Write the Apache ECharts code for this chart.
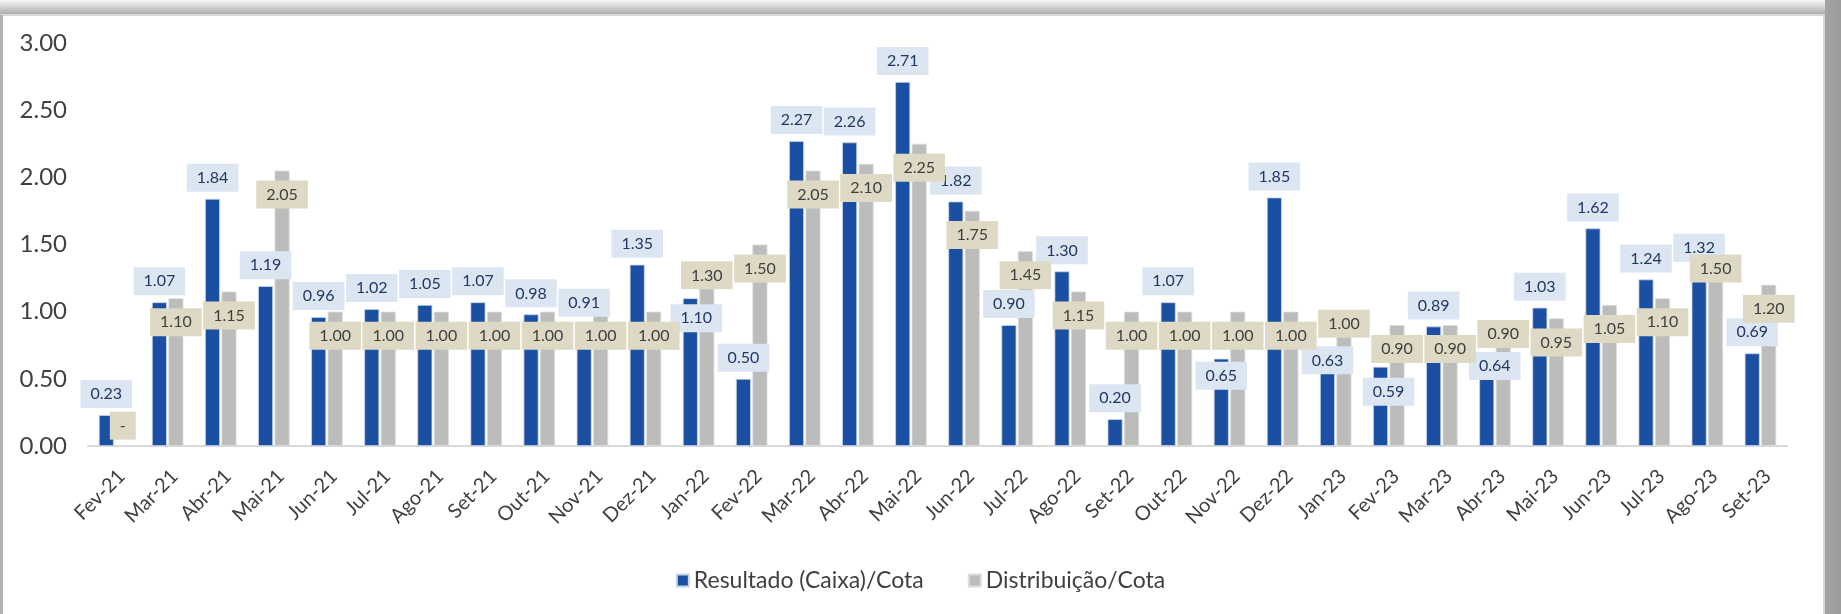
<!DOCTYPE html>
<html>
<head>
<meta charset="utf-8">
<title>Resultado x Distribuição por cota</title>
<script src="https://cdn.jsdelivr.net/npm/echarts@6/dist/echarts.min.js"></script>
<style>
  html, body { margin: 0; padding: 0; background: #fff; }
  #chart { width: 1841px; height: 614px; }
</style>
</head>
<body>
<div id="chart"></div>
<script>
// --- data ---
const months = [
  "Fev-21", "Mar-21", "Abr-21", "Mai-21", "Jun-21", "Jul-21", "Ago-21", "Set-21",
  "Out-21", "Nov-21", "Dez-21", "Jan-22", "Fev-22", "Mar-22", "Abr-22", "Mai-22",
  "Jun-22", "Jul-22", "Ago-22", "Set-22", "Out-22", "Nov-22", "Dez-22", "Jan-23",
  "Fev-23", "Mar-23", "Abr-23", "Mai-23", "Jun-23", "Jul-23", "Ago-23", "Set-23"
];

const resultadoCota = [
  0.23, 1.07, 1.84, 1.19, 0.96, 1.02, 1.05, 1.07,
  0.98, 0.91, 1.35, 1.10, 0.50, 2.27, 2.26, 2.71,
  1.82, 0.90, 1.30, 0.20, 1.07, 0.65, 1.85, 0.63,
  0.59, 0.89, 0.64, 1.03, 1.62, 1.24, 1.32, 0.69
];

const distribuicaoCota = [
  0.00, 1.10, 1.15, 2.05, 1.00, 1.00, 1.00, 1.00,
  1.00, 1.00, 1.00, 1.30, 1.50, 2.05, 2.10, 2.25,
  1.75, 1.45, 1.15, 1.00, 1.00, 1.00, 1.00, 1.00,
  0.90, 0.90, 0.90, 0.95, 1.05, 1.10, 1.50, 1.20
];

const seriesNames = ["Resultado (Caixa)/Cota", "Distribuição/Cota"];
const yTicks = [0, 0.5, 1, 1.5, 2, 2.5, 3];

// labels that were dragged by hand in the original sheet (index -> [dx, dy])
const blueNudge = { 11: [6, 41], 21: [0, 38], 23: [0, 20], 24: [8, 46], 26: [8, 27] };
const grayNudge = { 0: [0, -44], 11: [0, -20], 23: [0, -12], 26: [0, -15] };

const FONT = "Lato, 'Noto Sans', sans-serif";

function withNudge(values, nudge) {
  return values.map((v, i) => {
    if (!nudge[i]) return v;
    return { value: v, label: { offset: nudge[i] } };
  });
}

const chart = echarts.init(document.getElementById("chart"), null, { renderer: "canvas" });

const option = {
  animation: false,
  backgroundColor: "#ffffff",
  textStyle: { fontFamily: FONT },

  // picture frame round the chart (shadow top / right, thin line left)
  graphic: [
    { type: "rect", shape: { x: 0, y: 0, width: 1841, height: 15 },
      style: { fill: { type: "linear", x: 0, y: 0, x2: 0, y2: 1,
        colorStops: [{ offset: 0, color: "#f6f6f6" }, { offset: 1, color: "#a9a9a9" }] } }, silent: true },
    { type: "rect", shape: { x: 0, y: 14, width: 1841, height: 2 },
      style: { fill: "#d9d9d9" }, silent: true },
    { type: "rect", shape: { x: 0, y: 15, width: 3, height: 599 },
      style: { fill: "#b3b3b3" }, silent: true },
    { type: "rect", shape: { x: 1823, y: 15, width: 2, height: 599 },
      style: { fill: "#d6d6d6" }, silent: true },
    { type: "rect", shape: { x: 1825, y: 0, width: 16, height: 614 },
      style: { fill: { type: "linear", x: 0, y: 0, x2: 1, y2: 0,
        colorStops: [{ offset: 0, color: "#a3a3a3" }, { offset: 1, color: "#9b9b9b" }] } }, silent: true }
  ],

  grid: { left: 88, right: 54, top: 43, bottom: 168, containLabel: false },

  legend: {
    data: seriesNames,
    bottom: 17,
    left: "center",
    icon: "rect",
    itemWidth: 12,
    itemHeight: 12,
    itemGap: 44,
    textStyle: { fontFamily: FONT, fontSize: 23, color: "#404040" }
  },

  xAxis: {
    type: "category",
    data: months,
    axisLine: { show: true, lineStyle: { color: "#d9d9d9", width: 2 } },
    axisTick: { show: false },
    axisLabel: {
      interval: 0,
      rotate: 45,
      margin: 20,
      align: "right",
      verticalAlign: "top",
      fontFamily: FONT,
      fontSize: 20,
      color: "#404040"
    }
  },

  yAxis: {
    type: "value",
    min: yTicks[0],
    max: yTicks[yTicks.length - 1],
    interval: 0.5,
    axisLine: { show: false },
    axisTick: { show: false },
    splitLine: { show: false },
    axisLabel: {
      margin: 21,
      fontFamily: FONT,
      fontSize: 24,
      color: "#404040",
      formatter: v => v.toFixed(2)
    }
  },

  series: [
    {
      name: seriesNames[0],
      type: "bar",
      data: withNudge(resultadoCota, blueNudge),
      barWidth: 15,
      barGap: "10%",
      itemStyle: { color: "#1a4fa1", borderColor: "#c9d5ea", borderWidth: 0.8 },
      label: {
        show: true,
        position: "top",
        distance: 7,
        fontFamily: FONT,
        fontSize: 16,
        lineHeight: 16,
        color: "#1f3864",
        backgroundColor: "#dce6f2",
        padding: [6, 10, 6, 10],
        formatter: p => p.value.toFixed(2)
      }
    },
    {
      name: seriesNames[1],
      type: "bar",
      data: withNudge(distribuicaoCota, grayNudge),
      barWidth: 15,
      itemStyle: { color: "#bcbdbb", borderColor: "#dcdcdc", borderWidth: 0.8 },
      label: {
        show: true,
        position: "insideTop",
        distance: 10,
        fontFamily: FONT,
        fontSize: 16,
        lineHeight: 16,
        color: "#3f3f3f",
        backgroundColor: "#ddd9c4",
        padding: [6, 10, 6, 10],
        formatter: p => (p.value === 0 ? "-" : p.value.toFixed(2))
      }
    }
  ]
};

chart.setOption(option);
</script>
</body>
</html>
